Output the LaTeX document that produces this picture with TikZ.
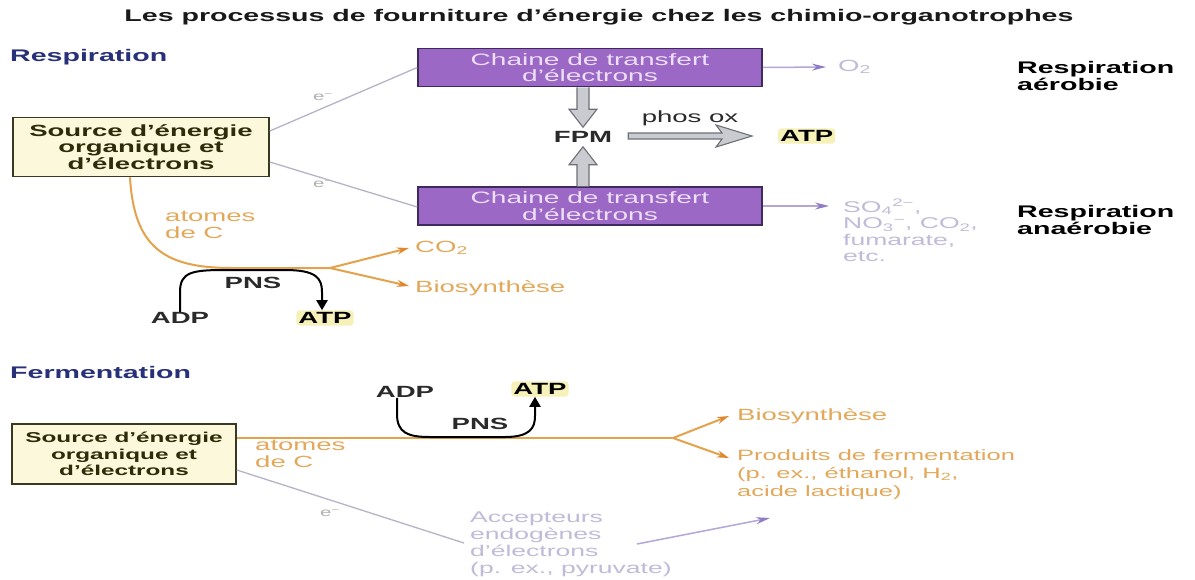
\documentclass[tikz,border=0pt]{standalone}
\usepackage{fontspec}
\setmainfont{Liberation Sans}[FakeStretch=1.7]
\usetikzlibrary{arrows.meta,calc}
\definecolor{hblue}{HTML}{28307A}
\definecolor{srcfill}{HTML}{FBF8DC}
\definecolor{srcdraw}{HTML}{3A3820}
\definecolor{srctext}{HTML}{2E2C08}
\definecolor{chfill}{HTML}{9B68C6}
\definecolor{chdraw}{HTML}{3E2A5C}
\definecolor{chtext}{HTML}{EDE0F6}
\definecolor{blkfill}{HTML}{CACBD0}
\definecolor{blkdraw}{HTML}{6E7078}
\definecolor{orln}{HTML}{E4A24C}
\definecolor{ortip}{HTML}{E2862C}
\definecolor{ortext}{HTML}{E3A85A}
\definecolor{lvln}{HTML}{B4A6D6}
\definecolor{lvtip}{HTML}{8E7CC4}
\definecolor{lvtext}{HTML}{C2BAD8}
\definecolor{eln}{HTML}{B8B2C8}
\definecolor{etext}{HTML}{B0B0B0}
\definecolor{dark}{HTML}{2A2A2A}
\definecolor{atpglow}{HTML}{F6F1B8}
\begin{document}
\begin{tikzpicture}[x=1pt,y=-1pt,
  every node/.style={inner sep=0pt, font=\fontsize{16.2}{17}\selectfont},
  heading/.style={anchor=west, text=hblue, font=\fontsize{16.8}{18}\selectfont\bfseries},
  side/.style={anchor=west, align=left, text=black, font=\fontsize{16.8}{17.5}\selectfont\bfseries},
  srcbox/.style={draw=srcdraw, fill=srcfill, line width=1.6pt, minimum width=256pt, minimum height=59pt, align=center, text=srctext, font=\fontsize{16.2}{16.5}\selectfont\bfseries},
  chainbox/.style={draw=chdraw, fill=chfill, line width=1.5pt, minimum width=344pt, minimum height=38pt, align=center, text=chtext, font=\fontsize{16.5}{16.5}\selectfont},
  orlabel/.style={anchor=west, align=left, text=ortext},
  lvlabel/.style={anchor=west, align=left, text=lvtext},
  elabel/.style={text=etext, font=\fontsize{12}{13}\selectfont},
  mol/.style={text=dark, font=\fontsize{16.2}{17}\selectfont\bfseries},
  atp/.style={mol, text=black, fill=atpglow, inner sep=2pt, rounded corners=3pt},
  eline/.style={draw=eln, line width=1.3pt},
  lvarrow/.style={draw=lvln, line width=1.5pt, -{Stealth[length=14pt,width=7pt,color=lvtip]}},
  orline/.style={draw=orln, line width=2pt},
  orarrow/.style={orline, -{Stealth[length=12pt,width=7pt,color=ortip]}},
  pnsarc/.style={draw=black, line width=2pt, -{Triangle[length=10pt,width=11pt]}},
  blockarrow/.style={fill=blkfill, draw=blkdraw, line width=1.1pt, line join=miter},
]
\fill[white] (0,0) rectangle (1195,579);
\useasboundingbox (0,0) rectangle (1195,579);

% ---------- title ----------
\node[font=\fontsize{16.8}{18}\selectfont\bfseries, text=black!90] (title) at (599,17) {Les processus de fourniture d’énergie chez les chimio-organotrophes};

% ---------- Respiration ----------
\node[heading] (resp) at (10,57) {Respiration};
\node[srcbox] (src1) at (141,147) {Source d’énergie\\organique et\\d’électrons};
\node[chainbox] (ch1) at (590,67.5) {Chaine de transfert\\d’électrons};
\node[chainbox] (ch2) at (590,206) {Chaine de transfert\\d’électrons};
\node[mol, inner sep=4pt] (fpm) at (583,137) {FPM};
\node[text=dark] (phos) at (690,118) {phos ox};
\node[atp, anchor=west] (atp1) at (778,136) {ATP};
\node[lvlabel] (o2) at (838,67) {O\textsubscript{2}};
\node[side] (aer) at (1017,76) {Respiration\\aérobie};
\node[lvlabel, anchor=north west, font=\fontsize{15.6}{16.5}\selectfont] (acc) at (843,199) {SO\textsubscript{4}\textsuperscript{2−},\\NO\textsubscript{3}\textsuperscript{−}, CO\textsubscript{2},\\fumarate,\\etc.};
\node[side] (anaer) at (1017,220) {Respiration\\anaérobie};
\node[orlabel, anchor=north west] (atomes1) at (165,211) {atomes\\de C};
\node[orlabel] (co2) at (415,248) {CO\textsubscript{2}};
\node[orlabel] (bios1) at (415,288) {Biosynthèse};
\node[mol] (adp1) at (180,318) {ADP};
\node[atp] (atp2) at (325,318) {ATP};
\node[mol] (pns1) at (253,283) {PNS};
\node[elabel] (e1) at (323,97) {e\textsuperscript{−}};
\node[elabel] (e2) at (323,184) {e\textsuperscript{−}};

% electron lines
\draw[eline] ($(src1.east)+(0,-16)$) -- (ch1.west);
\draw[eline] ($(src1.east)+(0,15)$) -- ($(ch2.west)+(0,1)$);
% acceptor arrows
\draw[lvarrow] (ch1.east) -- ($(o2.west)+(-12,0)$);
\draw[lvarrow] (ch2.east) -- ($(ch2.east -| acc.west)+(-14,0)$);

% block arrows to FPM
\coordinate (t1) at (fpm.north |- ch1.south);
\coordinate (t2) at (fpm.north);
\draw[blockarrow] ($(t1)+(-6,0)$) -- ($(t2)+(-6,-18)$) -- ($(t2)+(-14,-18)$) -- (t2) -- ($(t2)+(14,-18)$) -- ($(t2)+(6,-18)$) -- ($(t1)+(6,0)$);
\coordinate (b1) at (fpm.south |- ch2.north);
\coordinate (b2) at (fpm.south);
\draw[blockarrow] ($(b1)+(-6,0)$) -- ($(b2)+(-6,18)$) -- ($(b2)+(-14,18)$) -- (b2) -- ($(b2)+(14,18)$) -- ($(b2)+(6,18)$) -- ($(b1)+(6,0)$);
\coordinate (h1) at ($(fpm.east)+(12,-1)$);
\coordinate (h2) at ($(h1 -| atp1.west)+(-26,0)$);
\draw[blockarrow] ($(h1)+(0,-3)$) -- ($(h2)+(-30,-3)$) -- ($(h2)+(-36,-11)$) -- (h2) -- ($(h2)+(-36,11)$) -- ($(h2)+(-30,3)$) -- ($(h1)+(0,3)$) -- cycle;

% carbon flow
\coordinate (br1) at (330,268);
\draw[orline] ($(src1.south)+(-11,0)$) .. controls (134,248) and (165,268) .. (232,268) -- (br1);
\draw[orarrow] (br1) -- ($(co2.west)+(-6,0)$);
\draw[orarrow] (br1) -- ($(bios1.west)+(-6,-2)$);
% PNS
\draw[pnsarc] (adp1.north) -- (180,292) .. controls (180,272) and (192,270) .. (225,270) -- (285,270) .. controls (316,270) and (322,278) .. (322,292) -- ($(atp2.north)+(-3,0)$);

% ---------- Fermentation ----------
\node[heading] (ferm) at (10,372) {Fermentation};
\node[srcbox, minimum width=224pt, minimum height=60pt, font=\fontsize{14.3}{16.5}\selectfont\bfseries] (src2) at (124,454) {Source d’énergie\\organique et\\d’électrons};
\node[orlabel, anchor=north west] (atomes2) at (255,440) {atomes\\de C};
\node[mol] (adp3) at (405,392) {ADP};
\node[atp] (atp3) at (540,389) {ATP};
\node[mol] (pns2) at (480,424) {PNS};
\node[orlabel] (bios2) at (737,416) {Biosynthèse};
\node[orlabel, anchor=north west, font=\fontsize{15}{18}\selectfont] (prod) at (737,449) {Produits de fermentation\\(p. ex., éthanol, H\textsubscript{2},\\acide lactique)};
\node[elabel] (e3) at (330,513) {e\textsuperscript{−}};
\node[lvlabel, anchor=north west, font=\fontsize{15.6}{16.7}\selectfont] (accept) at (470,512) {Accepteurs\\endogènes\\d’électrons\\(p. ex., pyruvate)};

\coordinate (br2) at (673,438);
\draw[orline] ($(src2.east)+(0,-16)$) -- (br2);
\draw[orarrow] (br2) -- ($(bios2.west)+(-8,0)$);
\draw[orarrow] (br2) -- ($(prod.north west)+(-8,9)$);
\draw[pnsarc] ($(adp3.south)+(-8,0)$) -- (397,414) .. controls (397,433) and (408,437) .. (430,437) -- (505,437) .. controls (530,437) and (535,428) .. (535,416) -- ($(atp3.south)+(-5,0)$);
\draw[eline] ($(src2.east)+(0,16)$) -- ($(accept.north west)+(-6,31)$);
\coordinate (accA) at (637,544);
\coordinate (accB) at (770,518);
\draw[lvarrow] (accA) -- (accB);
\end{tikzpicture}
\end{document}
